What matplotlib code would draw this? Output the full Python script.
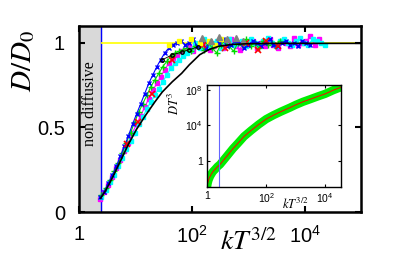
import numpy as np
import matplotlib.pyplot as plt

plt.rcParams['font.family'] = 'Liberation Sans'
plt.rcParams['mathtext.fontset'] = 'stix'

nan = np.nan

# two interleaved kT^{3/2} grids used by the data series
kT_a = [2.4, 2.8, 3.3, 3.9, 4.6, 5.4, 6.4, 7.5, 8.9, 10.5, 12.4, 14.6, 17.2, 20.3, 24, 28, 33, 39, 46, 55,
        65, 76, 90, 106, 125, 150, 180, 210, 250, 300, 350, 420, 500, 600, 700, 830, 1000, 1200, 1400, 1700,
        2000, 2400, 2800, 3300, 3900, 4600, 5500, 6500, 7700, 9000, 10700, 12600, 15000, 17700, 21000, 25000]
kT_b = [2.5, 3.0, 3.6, 4.2, 5.0, 5.9, 6.9, 8.2, 9.7, 11.4, 13.5, 15.9, 18.7, 22, 26, 30.5, 36, 42.5, 50, 60,
        70, 83, 98, 115, 137, 165, 195, 230, 275, 325, 385, 460, 550, 650, 765, 910, 1100, 1300, 1550, 1850,
        2200, 2600, 3050, 3600, 4250, 5050, 6000, 7100, 8350, 9850, 11600, 13800, 16300, 19300, 22900, 27000]

D_blue = [0.09, 0.12, 0.17, 0.22, 0.27, 0.33, 0.39, 0.45, 0.52, 0.58, 0.64, 0.70, 0.76, 0.81, 0.86, 0.90, 0.94, 0.97, 0.99, 1.00,
          1.01, 0.99, 1.00, 1.02, 0.98, 1.00, 0.97, 1.01, 0.99, 1.00, 1.02, 0.98, 0.99, 1.01, 1.00, 0.97, 0.99, 1.01, 1.00, 0.98,
          1.00, 1.02, 0.99, 0.98, 1.00, 1.01, 0.99, 1.00, 0.98, 1.01, 1.00, 0.99, nan, nan, nan, nan]
D_green = [0.10, 0.14, 0.19, 0.24, 0.29, 0.35, 0.41, 0.47, 0.53, 0.59, 0.64, 0.69, 0.74, 0.78, 0.82, 0.86, 0.89, 0.92, 0.94, 0.95,
           0.96, 0.97, 0.95, 0.98, 0.99, 0.96, 1.00, 0.97, 0.94, 0.99, 1.01, 0.98, 0.95, 1.00, 0.99, 1.02, 0.98, 1.00, 0.97, 1.01,
           0.99, 1.00, 0.98, 1.01, nan, nan, nan, nan, nan, nan, nan, nan, nan, nan, nan, nan]
D_magenta = [0.08, 0.12, 0.16, 0.21, 0.26, 0.31, 0.36, 0.41, 0.47, 0.52, 0.57, 0.62, 0.67, 0.72, 0.76, 0.80, 0.84, 0.88, 0.91, 0.93,
             0.95, 0.96, 0.98, 0.95, 0.99, 0.97, 1.00, 0.96, 0.98, 1.01, 0.97, 0.99, 1.02, 0.98, 0.96, 1.00, 0.99, 1.01, 0.97, 1.00,
             0.98, 1.02, 0.99, 0.97, 1.01, 1.00, 0.98, 1.03, 0.99, 1.00, 1.01, 1.04, 0.99, 1.02, nan, nan]
D_cyan = [0.09, 0.13, 0.18, 0.22, 0.27, 0.32, 0.37, 0.42, 0.47, 0.52, 0.56, 0.61, 0.65, 0.69, 0.73, 0.77, 0.81, 0.85, 0.88, 0.90,
          0.92, 0.94, 0.96, 1.00, 0.97, 1.02, 0.98, 1.00, 1.01, 0.97, 1.00, 1.02, 0.99, 1.00, 1.01, 0.98, 1.02, 1.00, 0.99, 1.01,
          1.03, 1.00, 0.98, 1.01, 1.02, 1.00, 0.99, 1.01, 1.03, 1.00, 0.99, 1.02, 1.01, 1.00, 0.99, nan]

kT_red = [7, 11, 20, 45, 160, 380, 900, 1500, 2100, 3400]
D_red = [0.40, 0.53, 0.70, 0.90, 0.99, 0.97, 1.00, 0.96, 1.01, 0.98]
kT_yellow = [40, 60, 95, 140, 200, 260, 330]
D_yellow = [0.99, 1.01, 1.02, 1.00, 1.01, 0.99, 1.02]
kT_grey = [150, 220, 300, 420, 600, 800]
D_grey = [1.03, 1.01, 1.035, 1.02, 1.03, 1.01]
kT_black = [30, 45, 66, 90, 127]
D_black = [0.90, 0.93, 0.945, 0.96, 0.976]

# fitted curve
kT_fit = [2.4, 3.0, 4.0, 5.4, 7.5, 10.5, 15, 22, 30, 45, 66, 90, 138, 200, 300, 500, 1000, 3000, 1e4, 1e5]
D_fit = [0.08, 0.13, 0.21, 0.30, 0.40, 0.49, 0.57, 0.65, 0.71, 0.77, 0.82, 0.87, 0.93, 0.96, 0.98, 0.99, 0.995, 0.997, 0.997, 0.997]

# inset: D T^3 vs kT^{3/2}
kT_in = [1.0, 1.05, 1.12, 1.26, 1.41, 1.58, 1.86, 2.24, 2.75, 3.55, 5.0, 7.6, 11.2, 17.8, 31.6, 56,
         100, 178, 316, 646, 1000, 1780, 3160, 5620, 1e4, 1.86e4, 3.47e4]
DT3_in = [1.26e-3, 3.2e-3, 7.1e-3, 1.8e-2, 3.5e-2, 6.3e-2, 0.11, 0.22, 0.40, 1.12, 4.5, 25, 100, 560, 2800, 1.26e4,
          5e4, 1.4e5, 3.5e5, 1e6, 2e6, 4.5e6, 8.9e6, 1.8e7, 3.5e7, 8.9e7, 2e8]

kT_cut = 2.45

fig = plt.figure(figsize=(3.99, 2.79), dpi=100)
ax = fig.add_axes([0.198, 0.240, 0.707, 0.667])

ax.axvspan(1, kT_cut, color='#d9d9d9', zorder=0)
ax.axvline(kT_cut, color='blue', lw=1.0, zorder=1)
ax.hlines(1.0, kT_cut, 1e5, color='yellow', lw=1.2, zorder=1)
ax.text(1.57, 0.64, 'non diffusive', rotation=90, va='center', ha='center',
        family='Liberation Serif', fontsize=11.5)

ms = 3
ax.plot(kT_a, D_magenta, '-s', color='magenta', lw=0.8, ms=ms, zorder=2)
ax.plot(kT_b, D_cyan, '-s', color='cyan', lw=0.8, ms=ms, zorder=2)
ax.plot(kT_b, D_green, '-+', color='#00dd00', lw=0.8, ms=4, zorder=3)
ax.plot(kT_a, D_blue, '-x', color='blue', lw=0.8, ms=3, zorder=3)
ax.plot(kT_red, D_red, 'x', color='red', ms=4, mew=1.2, zorder=3)
ax.plot(kT_yellow, D_yellow, 's', color='yellow', ms=3, zorder=3)
ax.plot(kT_grey, D_grey, '^', color='grey', ms=4, zorder=3)
ax.plot(kT_black, D_black, '-o', color='black', lw=0.6, ms=2.5, mfc='none', zorder=4)
ax.plot(kT_fit, D_fit, color='black', lw=1.2, zorder=4)

ax.set_xscale('log')
ax.set_xlim(1, 1e5)
ax.set_ylim(0, 1.1)
ax.set_xticks([1, 1e2, 1e4])
ax.set_xticklabels(['1', r'$\mathdefault{10^2}$', r'$\mathdefault{10^4}$'])
ax.xaxis.set_minor_locator(plt.NullLocator())
ax.set_yticks([0, 0.5, 1])
ax.set_yticklabels(['0', '0.5', '1'])
ax.tick_params(direction='in', length=4, width=1.5, labelsize=14.5, top=True, right=True)
ax.tick_params(axis='x', pad=9)
ax.tick_params(axis='y', pad=10)
for s in ax.spines.values():
    s.set_linewidth(1.8)

ax.set_ylabel(r'$D/D_0$', fontsize=21)
ax.yaxis.set_label_coords(-0.15, 0.81)
ax.set_xlabel(r'$kT^{3/2}$', fontsize=20)
ax.xaxis.set_label_coords(0.6, -0.09)

# inset
axi = fig.add_axes([0.519, 0.330, 0.336, 0.366])
axi.plot(kT_in, DT3_in, color='#00ee00', lw=6, solid_capstyle='round')
axi.plot(kT_in, DT3_in, color='red', lw=0.7)
axi.axvline(2.6, color='#6666ff', lw=0.8)
axi.set_xscale('log')
axi.set_yscale('log')
axi.set_xlim(1, 10**4.54)
axi.set_ylim(10**-2.93, 10**8.56)
axi.set_xticks([1, 1e2, 1e4])
axi.set_xticklabels(['1', r'$\mathdefault{10^2}$', r'$\mathdefault{10^4}$'])
axi.set_yticks([1, 1e4, 1e8])
axi.set_yticklabels(['1', r'$\mathdefault{10^4}$', r'$\mathdefault{10^8}$'])
axi.xaxis.set_minor_locator(plt.NullLocator())
axi.yaxis.set_minor_locator(plt.NullLocator())
axi.tick_params(direction='in', length=2.5, width=0.8, labelsize=7.5, top=True, right=True, pad=3)
for s in axi.spines.values():
    s.set_linewidth(1.0)
axi.set_xlabel(r'$kT^{3/2}$', fontsize=9)
axi.xaxis.set_label_coords(0.66, -0.1)
axi.set_ylabel(r'$DT^3$', fontsize=9)
axi.yaxis.set_label_coords(-0.19, 0.82)

fig.savefig('out.png', dpi=100)
